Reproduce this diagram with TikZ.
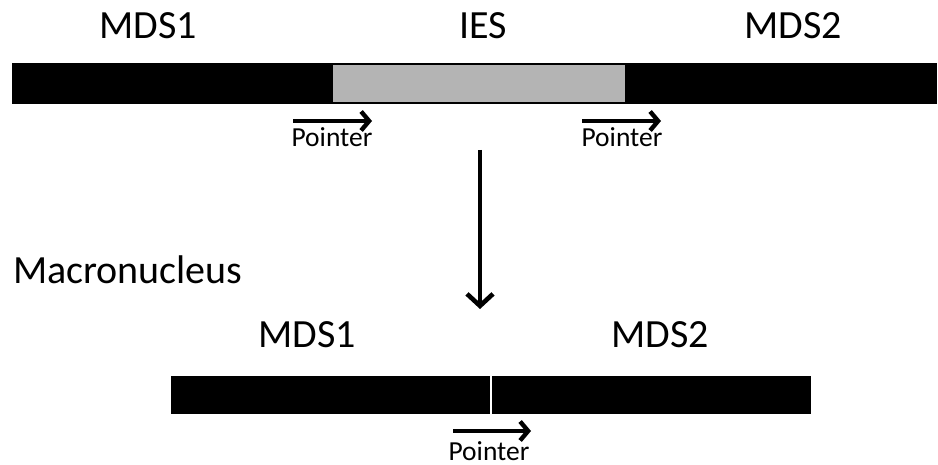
\documentclass[tikz,border=0pt]{standalone}
\usepackage{fontspec}
\setmainfont{Carlito}
\usetikzlibrary{arrows.meta}
\definecolor{ink}{HTML}{000000}
\definecolor{iesgray}{HTML}{B4B4B4}
\tikzset{
  seg/.style={fill=ink, draw=none},
  iesbox/.style={fill=iesgray, draw=none},
  lab/.style={text=ink, font=\fontsize{40}{48}\selectfont, inner sep=0pt, anchor=base},
  ptr/.style={text=ink, font=\fontsize{27.5}{33}\selectfont, inner sep=0pt, anchor=base},
  ptrarr/.style={draw=ink, line width=4.4pt, -{Straight Barb[length=8pt,width=19pt]}},
  down/.style={draw=ink, line width=4.6pt, -{Straight Barb[length=12pt,width=26pt]}},
}

\begin{document}
\begin{tikzpicture}[x=1pt,y=-1pt]
  \useasboundingbox (0,0) rectangle (938,465);

  % micronucleus
  \fill[seg] (12,63) rectangle (937,104);
  \fill[iesbox] (333,65) rectangle (625,102);
  \node[lab] (mdsa) at (148,39) {MDS1};
  \node[lab] (ies) at (483,39) {IES};
  \node[lab] (mdsb) at (793,39) {MDS2};

  \coordinate (pa1) at (293,121);
  \coordinate (pa2) at (372,121);
  \coordinate (pb1) at (582,121);
  \coordinate (pb2) at (661,121);
  \draw[ptrarr] (pa1) -- (pa2);
  \draw[ptrarr] (pb1) -- (pb2);
  \node[ptr] (ptra) at (332,147) {Pointer};
  \node[ptr] (ptrb) at (622,147) {Pointer};

  \coordinate (cut) at (480,150);
  \coordinate (joined) at (480,309);
  \draw[down] (cut) -- (joined);

  % macronucleus
  \node[lab, anchor=base west] (macro) at (13,284) {Macronucleus};
  \fill[seg] (171,376) rectangle (490,414);
  \fill[seg] (492,376) rectangle (811,414);
  \node[lab] (mdsc) at (307,348) {MDS1};
  \node[lab] (mdsd) at (660,348) {MDS2};

  \coordinate (pc1) at (453,431);
  \coordinate (pc2) at (531,431);
  \draw[ptrarr] (pc1) -- (pc2);
  \node[ptr] (ptrc) at (489,460) {Pointer};
\end{tikzpicture}
\end{document}
